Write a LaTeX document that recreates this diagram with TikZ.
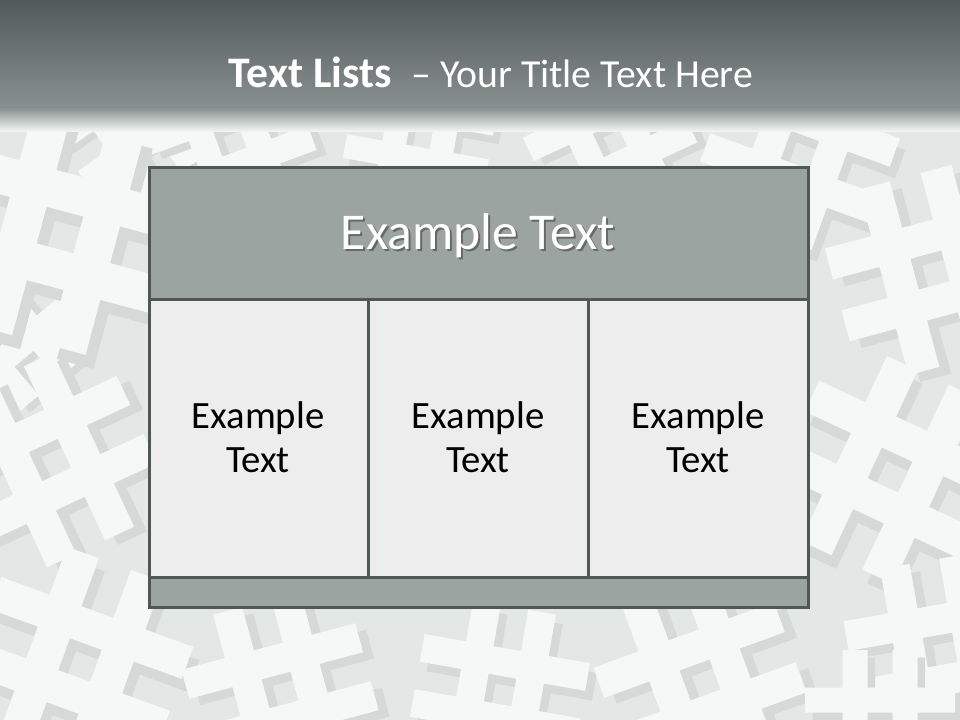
\documentclass[tikz,border=0pt]{standalone}
\usepackage{fontspec}
\setmainfont{Carlito}
\definecolor{titletop}{HTML}{535A5A}
\definecolor{titlemid}{HTML}{899290}
\definecolor{bgc}{HTML}{E3E7E6}
\definecolor{hashface}{HTML}{F5F8F7}
\definecolor{hashside}{HTML}{D5DAD9}
\definecolor{bordc}{HTML}{4F5757}
\definecolor{headfill}{HTML}{9CA4A2}
\definecolor{cellfill}{HTML}{EDEDED}
\newcommand{\hashat}[4]{%
  \begin{scope}[shift={(#1,#2)},rotate=#3,scale=#4]
    \fill[hashside] (-12,-27) rectangle (-2,33) (8,-27) rectangle (18,33)
                    (-27,-12) rectangle (33,-2) (-27,8) rectangle (33,18);
    \fill[hashface] (-15,-30) rectangle (-5,30) (5,-30) rectangle (15,30)
                    (-30,-15) rectangle (30,-5) (-30,5) rectangle (30,15);
  \end{scope}}
\tikzset{
  tablebox/.style={draw=bordc, line width=2.25pt},
  celltext/.style={align=center, font=\fontsize{29}{33}\selectfont, text=black},
}
\begin{document}
\begin{tikzpicture}[x=0.75pt,y=-0.75pt]
\useasboundingbox (0,0) rectangle (960,720);
\fill[bgc] (0,0) rectangle (960,720);
% decorative hash background
\hashat{0}{330}{40}{2.5}
\hashat{130}{120}{35}{2.4}
\hashat{230}{140}{20}{2.6}
\hashat{420}{135}{-10}{2.4}
\hashat{610}{140}{25}{2.6}
\hashat{800}{150}{-20}{3.0}
\hashat{930}{270}{15}{3.2}
\hashat{890}{470}{-25}{3.4}
\hashat{940}{650}{10}{3.0}
\hashat{50}{460}{25}{3.2}
\hashat{60}{230}{-15}{3.8}
\hashat{80}{660}{-20}{3.4}
\hashat{280}{690}{15}{3.0}
\hashat{500}{690}{-10}{2.8}
\hashat{700}{680}{20}{3.2}
\hashat{880}{725}{0}{2.5}
% title bar
\shade[top color=titletop, bottom color=titlemid] (0,0) rectangle (960,109);
\shade[top color=titlemid, bottom color=bgc!30!white] (0,108) rectangle (960,132);
\node[anchor=base, text=white, inner sep=0pt]
  (title) at (491,88) {\fontsize{32.7}{38}\selectfont\textbf{Text Lists}\ \ \fontsize{29.8}{36}\selectfont– Your Title Text Here};
% table
\fill[headfill] (149,168) rectangle (808,300);
\fill[cellfill] (149,300) rectangle (808,577);
\fill[headfill] (149,577) rectangle (808,607);
\draw[tablebox] (149,168) rectangle (808,607);
\draw[tablebox] (149,300) -- (808,300);
\draw[tablebox] (149,577) -- (808,577);
\draw[tablebox] (368.5,300) -- (368.5,577);
\draw[tablebox] (588,300) -- (588,577);
\node[anchor=base, text=black, opacity=0.35, font=\fontsize{38.7}{46}\selectfont, inner sep=0pt]
  (headshadow) at (480,252) {Example Text};
\node[anchor=base, text=white, font=\fontsize{38.7}{46}\selectfont, inner sep=0pt]
  (header) at (478,250) {Example Text};
\node[celltext, anchor=north] (cell1) at (258,397) {Example\\Text};
\node[celltext, anchor=north] (cell2) at (478,397) {Example\\Text};
\node[celltext, anchor=north] (cell3) at (698,397) {Example\\Text};
\end{tikzpicture}
\end{document}
